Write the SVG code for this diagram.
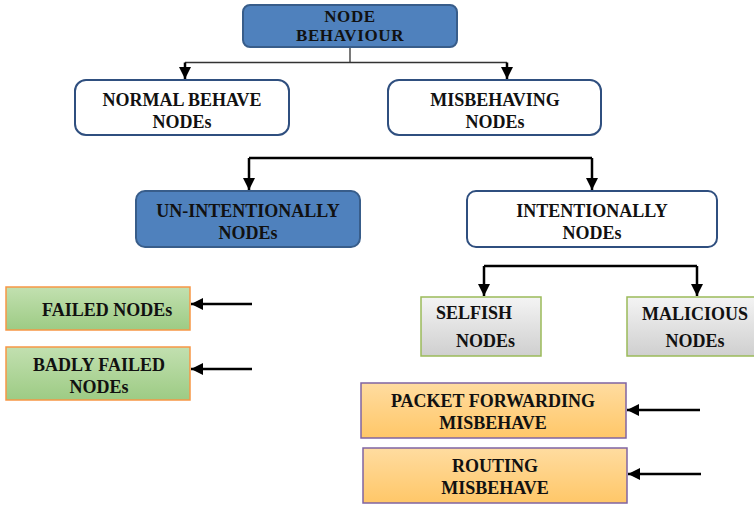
<svg xmlns="http://www.w3.org/2000/svg" width="754" height="505" viewBox="0 0 754 505">
  <defs>
    <marker id="arrow" viewBox="0 0 10 10" refX="10" refY="5" markerWidth="12" markerHeight="12" markerUnits="userSpaceOnUse" orient="auto">
      <path d="M0,0 L10,5 L0,10 z" fill="#000"/>
    </marker>
    <linearGradient id="gGreen" x1="0" y1="0" x2="0" y2="1">
      <stop offset="0" stop-color="#C2E0B0"/>
      <stop offset="1" stop-color="#9DCB84"/>
    </linearGradient>
    <linearGradient id="gGray" x1="0" y1="0" x2="0" y2="1">
      <stop offset="0" stop-color="#F4F4F4"/>
      <stop offset="1" stop-color="#CFCFCF"/>
    </linearGradient>
    <linearGradient id="gOrange" x1="0" y1="0" x2="0" y2="1">
      <stop offset="0" stop-color="#FFDCA0"/>
      <stop offset="1" stop-color="#FFC768"/>
    </linearGradient>
    <style>
      text { font-family: "Liberation Serif", "Times New Roman", serif; font-weight: bold; font-size: 18px; fill: #111; }
      .mid { text-anchor: middle; }
      .title { font-size: 17px; letter-spacing: 0.6px; }
      .blue { fill: #4F81BD; stroke: #385D8A; stroke-width: 2; }
      .white { fill: #FFFFFF; stroke: #2F4F7F; stroke-width: 2; }
      .green { fill: url(#gGreen); stroke: #F79646; stroke-width: 1.5; }
      .gray { fill: url(#gGray); stroke: #9BBB59; stroke-width: 1.5; }
      .orange { fill: url(#gOrange); stroke: #8064A2; stroke-width: 1.5; }
      .thin { fill: none; stroke: #333; stroke-width: 1.3; }
      .thick { fill: none; stroke: #000; stroke-width: 2.5; }
    </style>
  </defs>

  <!-- connectors -->
  <g id="connectors">
    <path class="thin" d="M350,47 V62.5 M185,62.5 H507"/>
    <path class="thick" d="M185,62.5 V79" marker-end="url(#arrow)"/>
    <path class="thick" d="M507,62.5 V79" marker-end="url(#arrow)"/>

    <path class="thick" d="M249,158 H592"/>
    <path class="thick" d="M249,158 V190" marker-end="url(#arrow)"/>
    <path class="thick" d="M592,158 V190" marker-end="url(#arrow)"/>

    <path class="thick" d="M484,266 H697"/>
    <path class="thick" d="M484,266 V296" marker-end="url(#arrow)"/>
    <path class="thick" d="M697,266 V296" marker-end="url(#arrow)"/>

    <path class="thick" d="M252,304 H191" marker-end="url(#arrow)"/>
    <path class="thick" d="M252,369 H191" marker-end="url(#arrow)"/>
    <path class="thick" d="M700,410 H627" marker-end="url(#arrow)"/>
    <path class="thick" d="M701,474 H628" marker-end="url(#arrow)"/>
  </g>

  <g id="node-behaviour">
    <rect class="blue" x="243" y="5" width="214" height="42" rx="7"/>
    <text class="mid title" x="350" y="21.5">NODE</text>
    <text class="mid title" x="350" y="40.5">BEHAVIOUR</text>
  </g>

  <g id="normal-behave">
    <rect class="white" x="75" y="80" width="214" height="55" rx="11"/>
    <text class="mid" x="182" y="106">NORMAL BEHAVE</text>
    <text class="mid" x="182" y="128">NODEs</text>
  </g>

  <g id="misbehaving">
    <rect class="white" x="388" y="80" width="213" height="55" rx="11"/>
    <text class="mid" x="495" y="106">MISBEHAVING</text>
    <text class="mid" x="495" y="128">NODEs</text>
  </g>

  <g id="un-intentionally">
    <rect class="blue" x="136" y="191" width="224" height="56" rx="9"/>
    <text class="mid" x="248" y="217">UN-INTENTIONALLY</text>
    <text class="mid" x="248" y="239">NODEs</text>
  </g>

  <g id="intentionally">
    <rect class="white" x="467" y="191" width="250" height="56" rx="9"/>
    <text class="mid" x="592" y="217">INTENTIONALLY</text>
    <text class="mid" x="592" y="239">NODEs</text>
  </g>

  <g id="failed">
    <rect class="green" x="6" y="287" width="184" height="43"/>
    <text x="42" y="316">FAILED NODEs</text>
  </g>

  <g id="badly-failed">
    <rect class="green" x="6" y="347" width="184" height="53"/>
    <text class="mid" x="99" y="371">BADLY FAILED</text>
    <text class="mid" x="99" y="393">NODEs</text>
  </g>

  <g id="selfish">
    <rect class="gray" x="421" y="297" width="120" height="59"/>
    <text x="436" y="319">SELFISH</text>
    <text x="456" y="347">NODEs</text>
  </g>

  <g id="malicious">
    <rect class="gray" x="627" y="297" width="132" height="59"/>
    <text class="mid" x="695" y="320">MALICIOUS</text>
    <text class="mid" x="695" y="347">NODEs</text>
  </g>

  <g id="packet-forwarding">
    <rect class="orange" x="361" y="383" width="265" height="55"/>
    <text class="mid" x="493" y="407">PACKET FORWARDING</text>
    <text class="mid" x="493" y="429">MISBEHAVE</text>
  </g>

  <g id="routing">
    <rect class="orange" x="363" y="448" width="264" height="55"/>
    <text class="mid" x="495" y="472">ROUTING</text>
    <text class="mid" x="495" y="494">MISBEHAVE</text>
  </g>
</svg>
